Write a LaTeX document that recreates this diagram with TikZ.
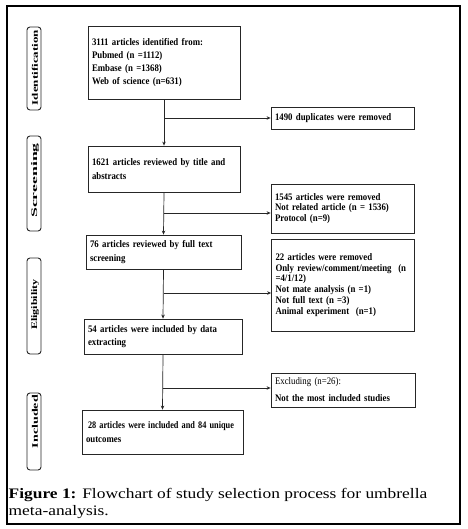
\documentclass[tikz,border=0pt]{standalone}
\usepackage{fontspec}
\usepackage{graphicx}
\setmainfont{Liberation Serif}
\newfontfamily\boxfont[FakeStretch=0.88]{Liberation Serif}
\newfontfamily\capfont[FakeStretch=1.2]{Liberation Serif}
\usetikzlibrary{arrows.meta}
\begin{document}
\begin{tikzpicture}[x=1pt,y=-1pt,
  box/.style={draw=black!85, line width=0.8pt, inner xsep=4pt, inner ysep=0pt, align=left,
    font=\boxfont\bfseries\fontsize{10}{13.3}\selectfont},
  rbox/.style={box, font=\boxfont\bfseries\fontsize{10}{10.9}\selectfont},
  stage/.style={draw=black!85, rounded corners=3pt, line width=0.9pt, minimum width=14pt, inner sep=0pt},
  lab/.style={rotate=90, inner sep=0pt, font=\bfseries\fontsize{8.5}{10}\selectfont},
  arr/.style={-{Stealth[length=4pt,width=3.5pt]}, line width=0.7pt, draw=black!85},
  captext/.style={anchor=base west, inner sep=0pt, font=\capfont\fontsize{14.5}{17}\selectfont}]
\useasboundingbox (0,0) rectangle (467,529);
\fill[white] (0,0) rectangle (467,529);
\draw[line width=1.1pt] (7,6) rectangle (460,524);

% stage boxes
\node[stage, minimum height=83pt] (s1) at (34,68.5) {};
\node[stage, minimum height=95pt] (s2) at (34,183.5) {};
\node[stage, minimum height=96pt] (s3) at (34,306) {};
\node[stage, minimum height=77pt] (s4) at (34,431.5) {};
\node[lab] (l1) at (35,67.5) {\scalebox{1.53}[1]{Identification}};
\node[lab] (l2) at (35,180.5) {\scalebox{2.09}[1]{Screening}};
\node[lab] (l3) at (35,304.5) {\scalebox{1.42}[1]{Eligibility}};
\node[lab] (l4) at (35,421.5) {\scalebox{1.65}[1]{Included}};

% main boxes
\node[box, minimum width=152pt, minimum height=73pt, text width=144pt] (b1) at (164,62.5)
  {3111 articles identified from:\\Pubmed (n =1112)\\Embase (n =1368)\\Web of science (n=631)};
\node[box, minimum width=152pt, minimum height=46pt, text width=144pt] (b2) at (164,169)
  {\mbox{1621 articles reviewed by title and}\\abstracts};
\node[box, minimum width=155pt, minimum height=34pt, text width=147pt] (b3) at (163.5,252)
  {\mbox{76 articles reviewed by full text}\\screening};
\node[box, minimum width=158pt, minimum height=35pt, text width=150pt] (b4) at (163,336.5)
  {\mbox{54 articles were included by data}\\extracting};
\node[box, minimum width=161pt, minimum height=44pt, text width=153pt] (b5) at (162.5,432)
  {\hspace*{2pt}\scalebox{0.94}[1]{28 articles were included and 84 unique}\\outcomes};

% right boxes
\node[rbox, minimum width=143pt, minimum height=22pt, text width=135pt] (r1) at (342.5,118)
  {1490 duplicates were removed};
\node[rbox, minimum width=143pt, minimum height=49pt, text width=135pt] (r2) at (342.5,208.5)
  {1545 articles were removed\\Not related article (n = 1536)\\Protocol (n=9)};
\node[rbox, minimum width=142pt, minimum height=92pt, text width=135pt] (r3) at (343,285)
  {22 articles were removed\\\mbox{Only review/comment/meeting\ \ (n}\\=4/1/12)\\Not mate analysis (n =1)\\Not full text (n =3)\\Animal experiment\ \ (n=1)};
\node[rbox, minimum width=144pt, minimum height=34pt, text width=136pt,
  font=\boxfont\bfseries\fontsize{10}{17}\selectfont] (r4) at (343,390)
  {{\mdseries Excluding (n=26):}\\Not the most included studies};

% connectors
\draw[arr] (b1.south) -- (b2.north);
\draw[arr] (b2.south) -- (b3.north);
\draw[arr] (b3.south) -- (b4.north);
\draw[arr] (b4.south) -- (b5.north);
\coordinate (j1) at (164,118);
\coordinate (j2) at (164,213);
\coordinate (j3) at (163.5,293);
\coordinate (j4) at (162.8,388);
\draw[arr] (j1) -- (j1 -| r1.west);
\draw[arr] (j2) -- (j2 -| r2.west);
\draw[arr] (j3) -- (j3 -| r3.west);
\draw[arr] (j4) -- (j4 -| r4.west);

% caption
\node[captext] (c1) at (8.5,498) {\textbf{Figure 1:} Flowchart of study selection process for umbrella};
\node[captext] (c2) at (8.5,515) {meta-analysis.};
\end{tikzpicture}
\end{document}
